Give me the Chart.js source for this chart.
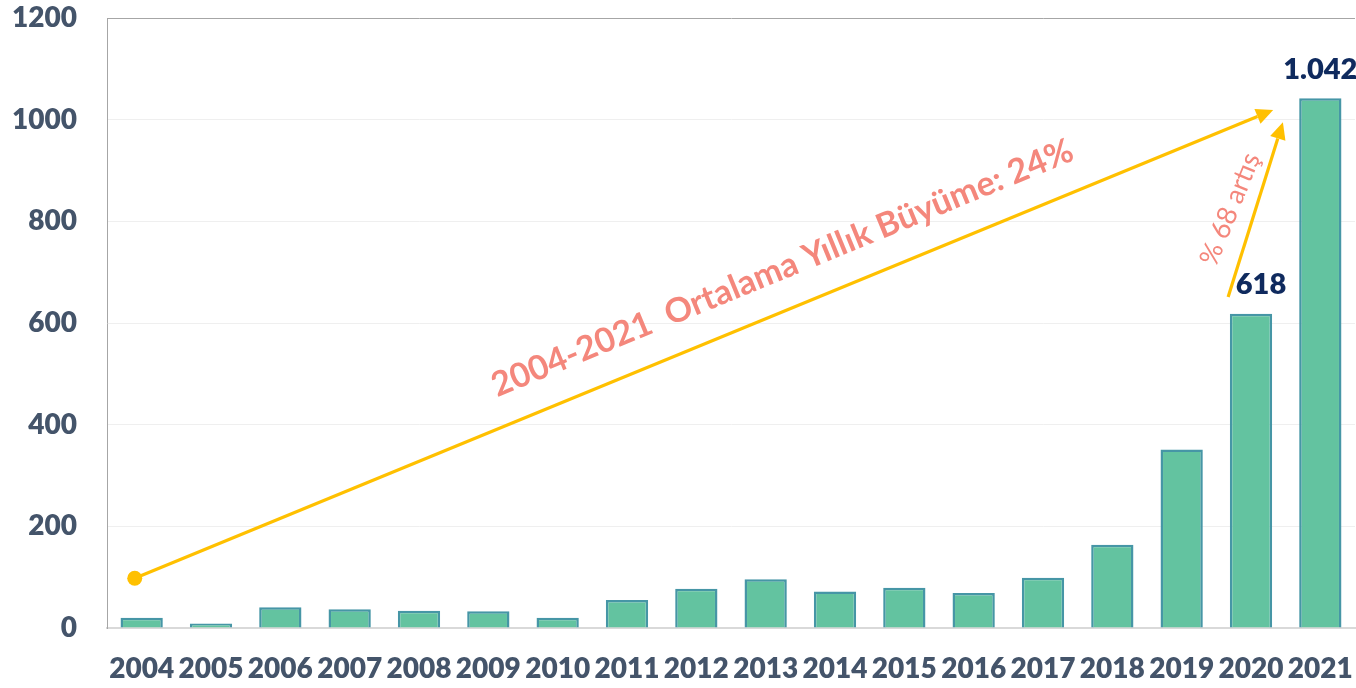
<!DOCTYPE html>
<html>
<head>
<meta charset="utf-8">
<script src="https://cdn.jsdelivr.net/npm/chart.js@4"></script>
<style>
html,body{margin:0;padding:0;background:#fff;}
#wrap{width:1356px;height:688px;position:relative;}
</style>
</head>
<body>
<div id="wrap"><canvas id="c" width="1356" height="688"></canvas></div>
<script>
const years = ['2004','2005','2006','2007','2008','2009','2010','2011','2012','2013','2014','2015','2016','2017','2018','2019','2020','2021'];
const values = [20, 9, 41, 37, 34, 33, 20, 55, 77, 96, 72, 79, 69, 99, 164, 351, 618, 1042];
const yTicks = [0, 200, 400, 600, 800, 1000, 1200];
const labeledYears = ['2020', '2021'];
const growthText = '2004-2021  Ortalama Yıllık Büyüme: 24%';
const jumpText = '% 68 artış';

const FONT = 'Lato, "Open Sans", sans-serif';
const YELLOW = '#ffc000';
const SALMON = '#f4877c';

function fmt(v){ return String(v).replace(/\B(?=(\d{3})+(?!\d))/g, '.'); }

function arrow(ctx, x1, y1, x2, y2){
  const ang = Math.atan2(y2 - y1, x2 - x1);
  const hl = 17, hw = 8;
  const bx = x2 - hl*Math.cos(ang), by = y2 - hl*Math.sin(ang);
  ctx.beginPath();
  ctx.moveTo(x1, y1); ctx.lineTo(bx, by);
  ctx.stroke();
  ctx.beginPath();
  ctx.moveTo(x2, y2);
  ctx.lineTo(bx + hw*Math.sin(ang), by - hw*Math.cos(ang));
  ctx.lineTo(bx - hw*Math.sin(ang), by + hw*Math.cos(ang));
  ctx.closePath();
  ctx.fill();
}

const annot = {
  id: 'annot',
  afterDatasetsDraw(chart){
    const ctx = chart.ctx;
    const xs = chart.scales.x, ys = chart.scales.y;
    const step = xs.getPixelForValue(1) - xs.getPixelForValue(0);
    const X = i => xs.getPixelForValue(0) + i*step;
    const Y = v => ys.getPixelForValue(v);
    ctx.save();
    ctx.strokeStyle = YELLOW; ctx.fillStyle = YELLOW; ctx.lineWidth = 3.2; ctx.lineCap = 'butt';
    const ax1 = X(-0.1), ay1 = Y(98), ax2 = X(16.32), ay2 = Y(1019);
    arrow(ctx, ax1, ay1, ax2, ay2);
    ctx.beginPath(); ctx.arc(ax1, ay1, 7.5, 0, Math.PI*2); ctx.fill();
    arrow(ctx, X(15.67), Y(651), X(16.46), Y(995));
    const ang = Math.atan2(ay2 - ay1, ax2 - ax1);
    ctx.fillStyle = SALMON;
    ctx.font = 'bold 34px ' + FONT;
    ctx.textAlign = 'center'; ctx.textBaseline = 'middle';
    ctx.translate(X(9.24), Y(708));
    ctx.rotate(ang);
    ctx.fillText(growthText, 0, 0);
    ctx.restore();
    ctx.save();
    ctx.fillStyle = SALMON;
    ctx.font = '27px ' + FONT;
    ctx.textAlign = 'center'; ctx.textBaseline = 'middle';
    ctx.translate(X(15.70), Y(824));
    ctx.rotate(-68*Math.PI/180);
    ctx.fillText(jumpText, 0, 0);
    ctx.restore();
    ctx.save();
    ctx.fillStyle = '#0f2a5e';
    ctx.font = '800 29px ' + FONT;
    ctx.textAlign = 'center'; ctx.textBaseline = 'middle';
    const meta = chart.getDatasetMeta(0);
    labeledYears.forEach(y => {
      const i = years.indexOf(y);
      const el = meta.data[i];
      const dx = i === 16 ? 10 : 0;
      ctx.fillText(fmt(values[i]), el.x + dx, el.y - 29);
    });
    ctx.restore();
  }
};

new Chart(document.getElementById('c'), {
  type: 'bar',
  data: {
    labels: years,
    datasets: [{
      data: values,
      backgroundColor: '#63c3a0',
      borderColor: '#4696a6',
      borderWidth: 2.5,
      barPercentage: 0.61,
      categoryPercentage: 1.0
    }]
  },
  options: {
    responsive: false,
    animation: false,
    layout: { padding: { top: 18, right: 1, left: 0, bottom: 0 } },
    plugins: { legend: { display: false }, tooltip: { enabled: false } },
    scales: {
      x: {
        grid: { display: false, drawTicks: false },
        border: { display: true, color: '#d9d9d9', width: 2 },
        ticks: { color: '#44546a', font: { family: FONT, size: 28, weight: 800 }, padding: 24, maxRotation: 0, autoSkip: false },
        afterFit(s){ s.height = 60; s.paddingLeft = 0; s.paddingRight = 0; }
      },
      y: {
        min: 0, max: 1200,
        afterBuildTicks(s){ s.ticks = yTicks.map(v => ({ value: v })); },
        grid: {
          drawTicks: false,
          color: c => c.tick && c.tick.value === 1200 ? '#a6a6a6' : (c.tick && c.tick.value === 0 ? 'rgba(0,0,0,0)' : '#efefef'),
          lineWidth: 1
        },
        border: { display: true, color: '#a6a6a6', width: 1 },
        ticks: { color: '#44546a', font: { family: FONT, size: 28, weight: 800 }, padding: 30, callback: v => String(v) },
        afterFit(s){ s.width = 107; s.paddingTop = 0; s.paddingBottom = 0; }
      }
    }
  },
  plugins: [annot]
});
</script>
</body>
</html>
